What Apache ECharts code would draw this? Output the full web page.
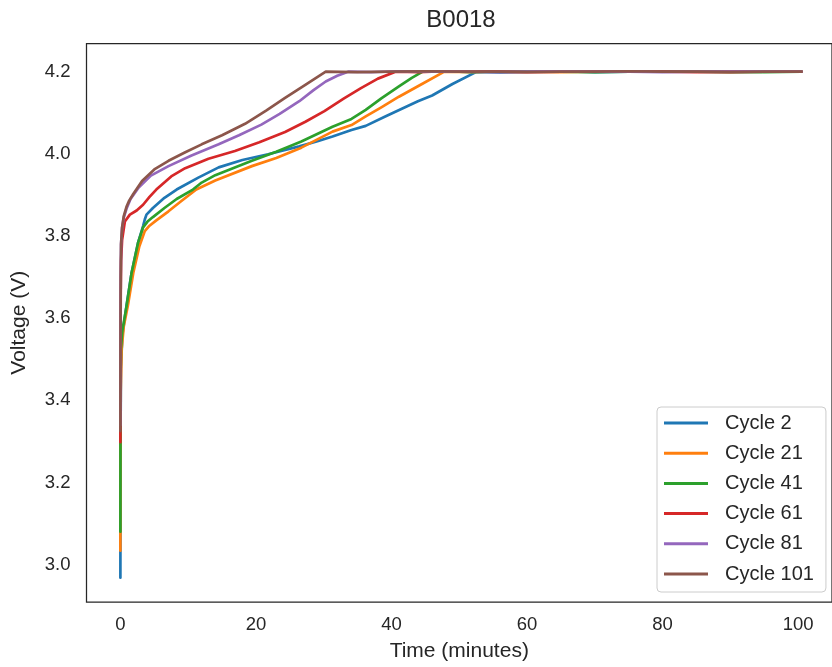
<!DOCTYPE html>
<html>
<head>
<meta charset="utf-8">
<script src="https://cdn.jsdelivr.net/npm/echarts@6/dist/echarts.min.js"></script>
<style>
html,body{margin:0;padding:0;background:#ffffff;}
#chart{width:832px;height:667px;}
</style>
</head>
<body>
<div id="chart"></div>
<script>
// ---- Data ----
var chartTitle = 'B0018';
var xAxisTitle = 'Time (minutes)';
var yAxisTitle = 'Voltage (V)';
var xTicks = [0, 20, 40, 60, 80, 100];
var yTicks = [3.0, 3.2, 3.4, 3.6, 3.8, 4.0, 4.2];
var seriesNames = ['Cycle 2', 'Cycle 21', 'Cycle 41', 'Cycle 61', 'Cycle 81', 'Cycle 101'];
var seriesColors = ['#1f77b4', '#ff7f0e', '#2ca02c', '#d62728', '#9467bd', '#8c564b'];

var c2Time = [0, 0.02, 0.08, 0.3, 0.9, 1.65, 2.6, 3.35, 3.6, 3.85, 4.8, 6.5, 8.3, 11.5, 14.5, 18, 21.8, 26.4, 29.2, 31.3, 34.1, 36.2, 39, 43.9, 46, 49, 52.6, 56, 60, 65, 70, 75, 80, 85, 90, 95, 100.5];
var c2Volt = [2.968, 3.3, 3.48, 3.56, 3.63, 3.71, 3.783, 3.824, 3.84, 3.852, 3.868, 3.893, 3.913, 3.942, 3.967, 3.985, 3.999, 4.018, 4.031, 4.042, 4.058, 4.068, 4.09, 4.128, 4.142, 4.17, 4.2, 4.198, 4.2, 4.201, 4.199, 4.2, 4.201, 4.2, 4.199, 4.2, 4.2];

var c21Time = [0, 0.01, 0.05, 0.18, 0.5, 1.1, 1.9, 2.8, 3.6, 4.3, 5.3, 7.1, 9, 11.2, 14, 19.4, 23, 26.7, 31.3, 34.1, 36.2, 38.5, 41.1, 44.5, 47.8, 52, 56, 60, 65, 70, 75, 80, 85, 90, 95, 100.5];
var c21Volt = [3.034, 3.25, 3.42, 3.524, 3.58, 3.63, 3.71, 3.775, 3.812, 3.825, 3.838, 3.86, 3.885, 3.913, 3.935, 3.97, 3.99, 4.015, 4.054, 4.07, 4.091, 4.113, 4.139, 4.17, 4.2, 4.199, 4.201, 4.2, 4.199, 4.2, 4.201, 4.2, 4.2, 4.199, 4.2, 4.2];

var c41Time = [0, 0.01, 0.03, 0.07, 0.3, 0.91, 1.65, 2.6, 3.35, 4, 4.8, 6.5, 8.3, 10.7, 12, 14, 19.4, 23, 26.7, 31.3, 34.1, 36.2, 38.5, 41.1, 43, 44.6, 48, 52, 56, 60, 65, 70, 75, 80, 85, 90, 95, 100.5];
var c41Volt = [3.08, 3.3, 3.45, 3.524, 3.57, 3.629, 3.71, 3.783, 3.821, 3.835, 3.846, 3.868, 3.89, 3.913, 3.93, 3.948, 3.983, 4.005, 4.03, 4.066, 4.085, 4.107, 4.135, 4.164, 4.185, 4.2, 4.201, 4.199, 4.2, 4.201, 4.2, 4.199, 4.2, 4.2, 4.201, 4.2, 4.199, 4.2];

var c61Time = [0, 0.02, 0.05, 0.1, 0.25, 0.66, 1.4, 2.4, 3.35, 4.3, 5.3, 7.5, 9.56, 13, 16.9, 20.5, 24.3, 27.3, 30.1, 33, 35.5, 38, 40.6, 44, 48, 52, 56, 60, 65, 70, 75, 80, 85, 90, 95, 100.5];
var c61Volt = [3.298, 3.5, 3.65, 3.74, 3.79, 3.835, 3.852, 3.862, 3.876, 3.895, 3.913, 3.945, 3.965, 3.988, 4.007, 4.028, 4.053, 4.078, 4.104, 4.135, 4.16, 4.183, 4.2, 4.199, 4.201, 4.2, 4.2, 4.199, 4.2, 4.201, 4.2, 4.2, 4.199, 4.2, 4.2, 4.2];

var c81Time = [0, 0.02, 0.05, 0.1, 0.25, 0.5, 0.9, 1.5, 2.7, 4.5, 7.1, 10.5, 14.5, 17.5, 20.8, 23.5, 26.4, 28.5, 30.3, 32, 33.6, 37, 41, 45, 50, 55, 60, 65, 70, 75, 80, 85, 90, 95, 100.5];
var c81Volt = [3.34, 3.55, 3.7, 3.78, 3.82, 3.845, 3.866, 3.89, 3.918, 3.947, 3.97, 3.996, 4.023, 4.045, 4.071, 4.097, 4.128, 4.155, 4.176, 4.19, 4.2, 4.199, 4.201, 4.2, 4.2, 4.199, 4.2, 4.201, 4.2, 4.2, 4.199, 4.2, 4.2, 4.201, 4.2];

var c101Time = [0, 0.02, 0.05, 0.1, 0.25, 0.5, 0.9, 1.3, 1.9, 3.2, 5, 7.1, 9.5, 12, 15, 18.4, 21.5, 24.3, 27, 30.3, 35, 40, 45, 50, 55, 60, 65, 70, 75, 80, 85, 90, 95, 100.5];
var c101Volt = [3.325, 3.55, 3.7, 3.78, 3.82, 3.848, 3.871, 3.886, 3.902, 3.934, 3.962, 3.983, 4.003, 4.023, 4.045, 4.073, 4.105, 4.136, 4.165, 4.2, 4.199, 4.2, 4.201, 4.2, 4.2, 4.199, 4.2, 4.2, 4.201, 4.2, 4.2, 4.199, 4.2, 4.2];

var timeSets = [c2Time, c21Time, c41Time, c61Time, c81Time, c101Time];
var voltSets = [c2Volt, c21Volt, c41Volt, c61Volt, c81Volt, c101Volt];

// ---- Chart ----
var FONT = '"Liberation Sans", Arial, sans-serif';
var TXT = '#262626';
var chart = echarts.init(document.getElementById('chart'), null, {renderer: 'canvas'});

var series = seriesNames.map(function (name, i) {
  return {
    name: name,
    type: 'line',
    data: timeSets[i].map(function (t, k) { return [t, voltSets[i][k]]; }),
    symbol: 'none',
    showSymbol: false,
    smooth: false,
    clip: true,
    color: seriesColors[i],
    lineStyle: {width: 2.7, color: seriesColors[i], cap: 'round', join: 'round'},
    emphasis: {disabled: true},
    z: 2 + i
  };
});

chart.setOption({
  animation: false,
  backgroundColor: '#ffffff',
  title: {
    text: chartTitle,
    left: 461,
    textAlign: 'center',
    top: 8,
    padding: 0,
    textStyle: {fontFamily: FONT, fontSize: 24, fontWeight: 'normal', color: TXT}
  },
  grid: {
    left: 86.5,
    top: 43.5,
    width: 748,
    height: 560,
    show: true,
    borderColor: TXT,
    borderWidth: 1.25,
    backgroundColor: '#ffffff',
    containLabel: false
  },
  xAxis: {
    type: 'value',
    min: -5,
    max: 105,
    name: xAxisTitle,
    nameLocation: 'middle',
    nameGap: 39,
    nameTextStyle: {fontFamily: FONT, fontSize: 21, color: TXT},
    axisLine: {show: false},
    axisTick: {show: false},
    splitLine: {show: false},
    axisLabel: {
      customValues: xTicks,
      margin: 13,
      fontFamily: FONT, fontSize: 18.5, color: TXT
    }
  },
  yAxis: {
    type: 'value',
    min: 2.909,
    max: 4.2685,
    name: yAxisTitle,
    nameLocation: 'middle',
    nameGap: 57,
    nameRotate: 90,
    nameTextStyle: {fontFamily: FONT, fontSize: 21, color: TXT},
    axisLine: {show: false},
    axisTick: {show: false},
    splitLine: {show: false},
    axisLabel: {
      customValues: yTicks,
      margin: 16,
      fontFamily: FONT, fontSize: 18.5, color: TXT,
      formatter: function (v) { return v.toFixed(1); }
    }
  },
  legend: {
    orient: 'vertical',
    left: 657,
    top: 407,
    data: seriesNames,
    icon: 'rect',
    itemWidth: 44,
    itemHeight: 3,
    itemGap: 10.2,
    padding: [6, 12, 8, 7],
    borderColor: '#cccccc',
    borderWidth: 1,
    borderRadius: 4,
    backgroundColor: 'rgba(255,255,255,0.8)',
    textStyle: {fontFamily: FONT, fontSize: 20, color: TXT, lineHeight: 20, padding: [0, 0, 0, 12]}
  },
  series: series
});
</script>
</body>
</html>
